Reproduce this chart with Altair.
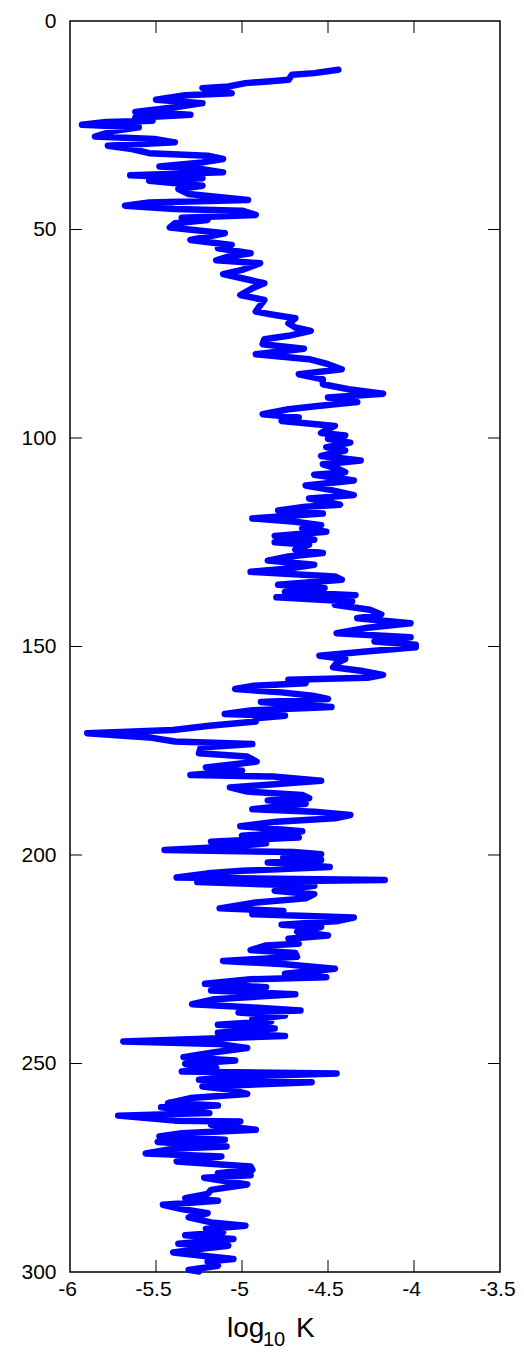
import altair as alt
import pandas as pd

depth = [11.7, 12.5, 12.9, 14.1, 14.5, 14.9, 15.7, 16.1, 17.3, 17.8, 18.9, 19.7, 20.7,
         21.8, 22.5, 23.2, 23.9, 24.2, 24.9, 25.5, 26.3, 27.7, 28.3, 29.1, 29.9, 30.7,
         31.7, 32.3, 33.1, 33.9, 34.9, 35.5, 36.3, 37.0, 37.7, 38.3, 39.5, 40.3, 41.5,
         42.9, 43.5, 44.3, 45.1, 45.5, 46.5, 47.2, 47.7, 48.5, 49.5, 50.9, 52.5, 53.7,
         54.5, 55.7, 56.5, 57.4, 58.1, 59.7, 60.7, 61.7, 62.9, 64.1, 65.7, 66.9, 68.5,
         69.7, 70.5, 71.3, 72.5, 73.5, 74.3, 75.5, 76.3, 77.5, 78.6, 79.9, 81.1, 82.3,
         83.5, 84.7, 85.9, 87.1, 88.3, 89.4, 90.3, 91.4, 92.3, 93.1, 94.3, 95.1, 95.9,
         97.1, 98.3, 98.8, 99.4, 100.2, 101.1, 102.2, 103.0, 104.3, 105.4, 106.3, 107.4,
         108.2, 108.8, 110.2, 111.4, 112.5, 113.7, 114.5, 116.0, 116.5, 117.4, 118.1,
         119.3, 120.1, 120.9, 121.7, 122.5, 123.5, 124.4, 125.0, 125.6, 126.8, 127.6,
         128.4, 129.4, 130.4, 131.3, 132.1, 133.2, 134.0, 135.2, 136.0, 136.9, 137.7,
         138.2, 139.2, 140.0, 141.2, 142.3, 143.2, 144.4, 145.5, 146.8, 147.8, 148.8,
         149.6, 150.2, 151.2, 152.2, 153.0, 154.0, 155.0, 155.8, 156.8, 157.5, 158.0,
         158.8, 159.4, 160.2, 161.0, 161.8, 162.6, 163.3, 164.5, 165.3, 166.2, 166.6,
         167.2, 168.0, 169.0, 170.0, 170.8, 171.8, 172.8, 173.4, 174.2, 175.6, 176.4,
         177.6, 179.0, 179.8, 180.8, 181.2, 182.2, 183.8, 184.8, 185.6, 186.4, 186.9,
         187.7, 189.0, 189.6, 190.4, 191.2, 192.0, 193.1, 194.3, 195.4, 195.8, 196.8,
         197.2, 198.0, 198.8, 199.3, 199.8, 200.6, 201.2, 201.8, 202.9, 203.8, 204.4,
         205.4, 206.0, 206.5, 207.4, 208.6, 209.4, 210.4, 211.4, 212.8, 213.4, 214.2,
         215.0, 215.8, 216.7, 217.3, 218.4, 219.3, 220.1, 221.3, 221.7, 222.8, 223.5,
         224.4, 225.4, 226.2, 227.3, 228.5, 229.3, 229.8, 230.9, 231.7, 232.5, 233.4,
         234.6, 235.8, 236.5, 237.3, 237.8, 238.5, 239.4, 239.9, 240.7, 241.6, 242.6,
         243.4, 244.7, 245.3, 246.3, 247.3, 248.5, 249.3, 250.1, 251.1, 251.9, 252.4,
         253.1, 253.9, 254.5, 255.5, 256.3, 257.3, 258.3, 259.5, 260.1, 260.5, 261.9,
         262.5, 263.7, 263.9, 264.7, 265.9, 266.7, 267.5, 268.3, 268.8, 269.9, 270.4,
         271.6, 272.3, 273.5, 274.7, 275.5, 276.3, 276.8, 277.4, 279.0, 280.3, 281.3,
         282.3, 282.9, 283.9, 284.9, 285.9, 286.9, 288.1, 288.9, 289.7, 290.5, 291.2,
         292.1, 293.2, 293.7, 294.5, 295.3, 296.1, 296.9, 297.5, 298.5, 299.5, 299.9]

logk = [-4.44, -4.58, -4.71, -4.73, -4.85, -4.98, -5.08, -5.23, -5.06, -5.33, -5.50, -5.23, -5.39,
        -5.62, -5.30, -5.62, -5.52, -5.79, -5.93, -5.60, -5.74, -5.855, -5.51, -5.39, -5.78, -5.64,
        -5.54, -5.20, -5.11, -5.23, -5.48, -5.24, -5.11, -5.65, -5.23, -5.54, -5.23, -5.37, -5.31,
        -4.965, -5.54, -5.68, -5.39, -5.00, -4.92, -5.35, -5.20, -5.39, -5.42, -5.10, -5.30, -5.06,
        -5.14, -4.95, -5.08, -5.15, -4.895, -5.00, -5.11, -5.00, -4.87, -4.94, -5.01, -4.87, -4.90,
        -4.92, -4.81, -4.69, -4.73, -4.69, -4.60, -4.73, -4.87, -4.88, -4.64, -4.92, -4.61, -4.50,
        -4.42, -4.67, -4.53, -4.53, -4.38, -4.18, -4.50, -4.33, -4.56, -4.73, -4.88, -4.67, -4.77,
        -4.46, -4.52, -4.54, -4.40, -4.50, -4.37, -4.51, -4.40, -4.54, -4.31, -4.53, -4.44,
        -4.40, -4.58, -4.35, -4.63, -4.48, -4.35, -4.61, -4.43, -4.63, -4.79, -4.53,
        -4.94, -4.69, -4.54, -4.65, -4.51, -4.81, -4.58, -4.81, -4.61, -4.69, -4.53,
        -4.73, -4.85, -4.58, -4.73, -4.95, -4.46, -4.42, -4.79, -4.52, -4.75, -4.34,
        -4.80, -4.36, -4.46, -4.256, -4.19, -4.33, -4.02, -4.27, -4.45, -4.02, -4.23,
        -3.99, -3.99, -4.28, -4.55, -4.40, -4.45, -4.47, -4.31, -4.18, -4.27, -4.73,
        -4.63, -4.93, -5.04, -4.77, -4.59, -4.50, -4.89, -4.48, -4.94, -5.10, -4.75,
        -4.92, -4.92, -5.19, -5.40, -5.90, -5.54, -5.39, -4.94, -5.24, -5.25, -4.97,
        -4.915, -5.21, -5.00, -5.30, -4.82, -4.54, -5.07, -4.97, -4.65, -4.61, -4.85,
        -4.63, -4.94, -4.58, -4.37, -4.46, -4.80, -5.01, -4.65, -5.00, -4.67, -5.18,
        -4.86, -5.08, -5.45, -4.70, -4.54, -4.76, -4.54, -4.85, -4.49, -5.00, -5.20,
        -5.38, -4.17, -5.26, -4.58, -4.81, -4.58, -4.63, -4.92, -5.13, -4.76, -4.94,
        -4.35, -4.44, -4.77, -4.54, -4.68, -4.50, -4.73, -4.67, -4.86, -4.95, -4.69,
        -4.68, -5.11, -4.75, -4.46, -4.75, -4.51, -4.95, -5.215, -4.86, -5.18, -4.69,
        -5.16, -5.29, -4.96, -4.66, -5.02, -4.75, -4.94, -4.83, -5.14, -4.81, -5.14,
        -4.75, -5.69, -5.14, -4.97, -5.16, -5.34, -5.04, -5.33, -5.15, -5.35, -4.45,
        -5.04, -5.25, -4.595, -5.23, -5.06, -4.97, -5.30, -5.43, -5.14, -5.47, -5.19,
        -5.72, -5.39, -5.01, -5.18, -4.92, -5.35, -5.48, -5.10, -5.49, -5.09, -5.39,
        -5.56, -5.12, -5.38, -4.95, -4.94, -5.14, -4.95, -5.22, -4.97, -5.18, -5.20,
        -5.33, -5.14, -5.46, -5.35, -5.20, -5.31, -5.18, -4.98, -5.21, -5.11, -5.33,
        -5.05, -5.37, -5.08, -5.25, -5.40, -5.23, -5.05, -5.20, -5.14, -5.31, -5.25]

x_label_values = [-6, -5.5, -5, -4.5, -4, -3.5]
y_label_values = [0, 50, 100, 150, 200, 250, 300]
x_tick_values = [-5.5, -5, -4.5, -4]
y_tick_values = [50, 100, 150, 200, 250]
title_parts = ["log", "10", "K"]

W, H = 430, 1251
TICK = 12
FONT = "Liberation Sans"
LFS = 21

df = pd.DataFrame({"depth": depth, "logk": logk, "idx": list(range(len(depth)))})
xt = pd.DataFrame({"v": x_tick_values})
yt = pd.DataFrame({"v": y_tick_values})

xs = alt.Scale(domain=[-6, -3.5], nice=False, zero=False)
ys = alt.Scale(domain=[0, 300], reverse=True, nice=False, zero=False)

ax_x = alt.Axis(values=x_label_values, labelExpr="toString(datum.value)",
                ticks=False, domain=False, grid=False, title=None, labelFontSize=LFS,
                labelFont=FONT, labelColor="black", labelPadding=6, labelFlush=False,
                labelOverlap=False, labelOffset=-3, orient="bottom")
ax_y = alt.Axis(values=y_label_values, labelExpr="toString(datum.value)",
                ticks=False, domain=False, grid=False, title=None,
                labelFontSize=LFS, labelFont=FONT, labelColor="black", labelPadding=14,
                labelFlush=False, labelOverlap=False, orient="left")

line = alt.Chart(df).mark_line(
    color="#0000ff", strokeWidth=6.5, strokeCap="round", strokeJoin="round"
).encode(
    x=alt.X("logk:Q", scale=xs, axis=ax_x),
    y=alt.Y("depth:Q", scale=ys, axis=ax_y),
    order="idx:Q",
)

tick_style = dict(color="black", strokeWidth=1)
bottom_ticks = alt.Chart(xt).mark_rule(**tick_style).encode(
    x=alt.X("v:Q", scale=xs, axis=ax_x), y=alt.value(H), y2=alt.value(H - TICK))
top_ticks = alt.Chart(xt).mark_rule(**tick_style).encode(
    x=alt.X("v:Q", scale=xs, axis=ax_x), y=alt.value(0), y2=alt.value(TICK))
left_ticks = alt.Chart(yt).mark_rule(**tick_style).encode(
    y=alt.Y("v:Q", scale=ys, axis=ax_y), x=alt.value(0), x2=alt.value(TICK))
right_ticks = alt.Chart(yt).mark_rule(**tick_style).encode(
    y=alt.Y("v:Q", scale=ys, axis=ax_y), x=alt.value(W), x2=alt.value(W - TICK))

t_log = alt.Chart(pd.DataFrame({"t": [title_parts[0]]})).mark_text(
    font=FONT, fontSize=28, color="black", align="left", baseline="alphabetic"
).encode(text="t:N", x=alt.value(157), y=alt.value(1316))
t_sub = alt.Chart(pd.DataFrame({"t": [title_parts[1]]})).mark_text(
    font=FONT, fontSize=20, color="black", align="left", baseline="alphabetic"
).encode(text="t:N", x=alt.value(193), y=alt.value(1325))
t_k = alt.Chart(pd.DataFrame({"t": [title_parts[2]]})).mark_text(
    font=FONT, fontSize=28, color="black", align="left", baseline="alphabetic"
).encode(text="t:N", x=alt.value(226), y=alt.value(1316))

chart = alt.layer(
    line, bottom_ticks, top_ticks, left_ticks, right_ticks, t_log, t_sub, t_k
).properties(
    width=W, height=H,
    autosize=alt.AutoSizeParams(type="none"),
    padding={"left": 62, "top": 13, "right": 16, "bottom": 80},
    background="white",
).configure_view(stroke="black", strokeWidth=1.5)

chart.save("out.html", embed_options={"renderer": "svg", "actions": False})
